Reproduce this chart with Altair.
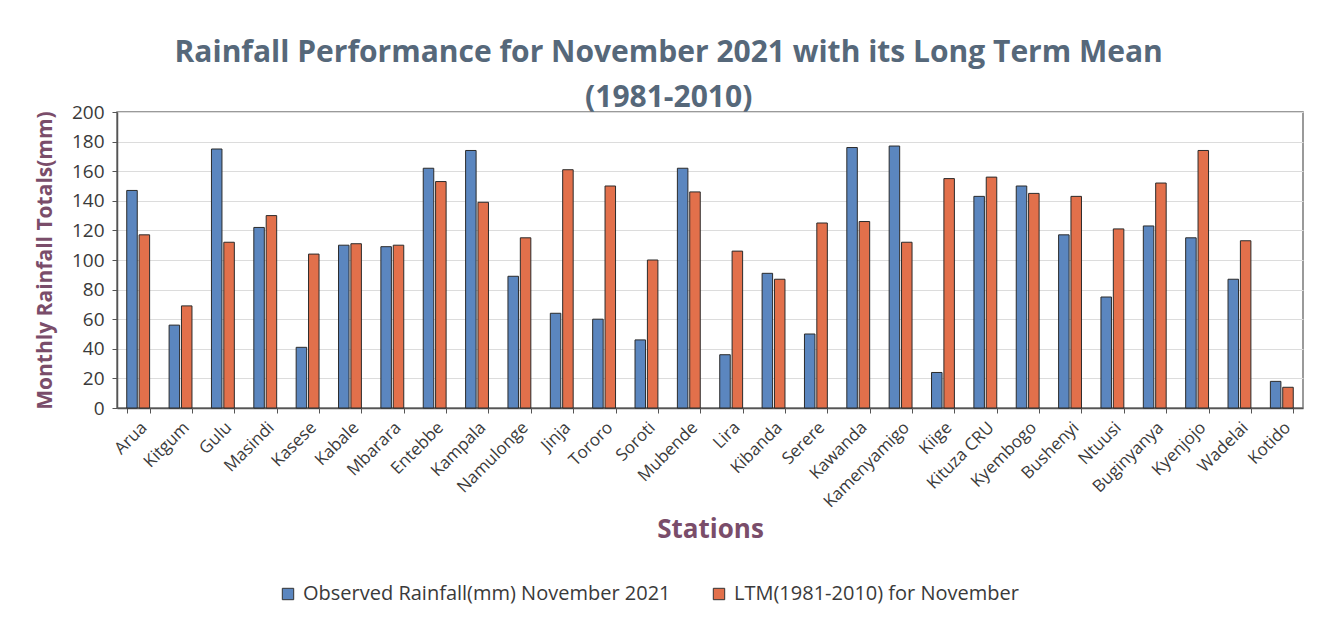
import altair as alt
import pandas as pd

stations = ["Arua", "Kitgum", "Gulu", "Masindi", "Kasese", "Kabale", "Mbarara", "Entebbe",
            "Kampala", "Namulonge", "Jinja", "Tororo", "Soroti", "Mubende", "Lira", "Kibanda",
            "Serere", "Kawanda", "Kamenyamigo", "Kiige", "Kituza CRU", "Kyembogo", "Bushenyi",
            "Ntuusi", "Buginyanya", "Kyenjojo", "Wadelai", "Kotido"]
observed = [147, 56, 175, 122, 41, 110, 109, 162, 174, 89, 64, 60, 46, 162, 36, 91,
            50, 176, 177, 24, 143, 150, 117, 75, 123, 115, 87, 18]
ltm = [117, 69, 112, 130, 104, 111, 110, 153, 139, 115, 161, 150, 100, 146, 106, 87,
       125, 126, 112, 155, 156, 145, 143, 121, 152, 174, 113, 14]
series_names = ["Observed Rainfall(mm) November 2021", "LTM(1981-2010) for November"]
series_colors = ["#5b86bf", "#e2704b"]
y_ticks = list(range(0, 201, 20))

rows = []
for s, o, l in zip(stations, observed, ltm):
    rows.append({"Station": s, "Series": series_names[0], "Value": o})
    rows.append({"Station": s, "Series": series_names[1], "Value": l})
df = pd.DataFrame(rows)

purple = "#7a4d6a"

chart = alt.Chart(df).mark_bar(stroke="#2b2b2b", strokeWidth=1).encode(
    x=alt.X("Station:N", sort=stations,
            scale=alt.Scale(paddingInner=0.46, paddingOuter=0.23),
            axis=alt.Axis(title="Stations", labelAngle=-45, tickBand="extent",
                          labelFont="Open Sans", labelFontSize=17, labelColor="#3a3a3a",
                          labelPadding=6, tickSize=5, tickColor="#555", domainColor="#555",
                          domainWidth=1.5, titleFont="Open Sans", titleFontSize=26,
                          titleFontWeight="bold", titleColor=purple, titlePadding=6)),
    xOffset=alt.XOffset("Series:N", sort=series_names,
                        scale=alt.Scale(paddingInner=0.15, paddingOuter=0)),
    y=alt.Y("Value:Q", scale=alt.Scale(domain=[0, 200]),
            axis=alt.Axis(title="Monthly Rainfall  Totals(mm)", values=y_ticks,
                          labelFont="Open Sans", labelFontSize=19, labelColor="#3a3a3a",
                          labelPadding=8, tickSize=5, tickColor="#555", domainColor="#555",
                          domainWidth=1.5, gridColor="#dcdcdc", titleFont="Open Sans",
                          titleFontSize=21, titleFontWeight="bold", titleColor=purple,
                          titlePadding=16)),
    color=alt.Color("Series:N", sort=series_names,
                    scale=alt.Scale(domain=series_names, range=series_colors),
                    legend=alt.Legend(title=None, orient="none", direction="horizontal",
                                      legendX=161, legendY=472, symbolType="square",
                                      symbolSize=130, symbolStrokeColor="#333",
                                      symbolStrokeWidth=1, labelFont="Open Sans",
                                      labelFontSize=20, labelColor="#3a3a3a", labelLimit=0,
                                      columnPadding=38, labelOffset=5)),
).properties(
    width=1186,
    height=296,
    title=alt.TitleParams(
        text=["Rainfall Performance for November 2021 with its Long Term Mean", "(1981-2010)"],
        font="Open Sans", fontSize=30, fontWeight="bold", color="#56687a",
        lineHeight=45, anchor="middle", frame="bounds", offset=-10),
    padding={"left": 26, "top": 30, "right": 20, "bottom": 5},
).configure_view(stroke="#7a7a7a", strokeWidth=1.5)

chart.save("out.html", embed_options={"renderer": "svg", "actions": False})
